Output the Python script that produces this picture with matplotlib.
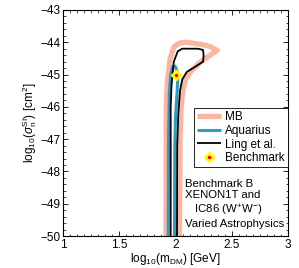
import numpy as np
import matplotlib
matplotlib.use("Agg")
import matplotlib.pyplot as plt
import matplotlib.ticker as ticker
from matplotlib.legend_handler import HandlerTuple

plt.rcParams['font.family'] = ['Liberation Sans', 'DejaVu Sans']
plt.rcParams['mathtext.fontset'] = 'custom'
plt.rcParams['mathtext.rm'] = 'Liberation Sans'
plt.rcParams['mathtext.it'] = 'Liberation Sans:italic'

# contours (log10 m_DM, log10 sigma)
mb_x = [1.915, 1.918, 1.928, 1.952, 1.985, 2.03, 2.09, 2.2, 2.3, 2.37, 2.3, 2.22, 2.14, 2.09, 2.065, 2.05, 2.04, 2.035]
mb_y = [-50, -46.0, -45.2, -44.5, -44.15, -44.03, -44.0, -44.05, -44.12, -44.25, -44.42, -44.62, -44.88, -45.15, -45.5, -46.0, -47.0, -50]

ling_x = [1.957, 1.957, 1.965, 1.985, 2.02, 2.06, 2.2, 2.245, 2.25, 2.245, 2.18, 2.1, 2.06, 2.04, 2.025, 2.015, 2.013]
ling_y = [-50, -46.0, -45.3, -44.6, -44.28, -44.2, -44.2, -44.24, -44.4, -44.6, -44.75, -44.92, -45.15, -45.5, -46.2, -47.2, -50]

aq_x = [1.935, 1.938, 1.945, 1.957, 1.975, 1.995, 2.01, 2.02, 2.015, 2.0, 1.994, 1.991]
aq_y = [-50, -47.0, -45.6, -45.0, -44.76, -44.74, -44.85, -45.1, -45.5, -46.3, -47.2, -50]

bench_x = [2.0]
bench_y = [-45.0]

fig = plt.figure(figsize=(2.99, 2.68), dpi=100)
ax = fig.add_axes([0.211, 0.119, 0.752, 0.844])

l_mb, = ax.plot(mb_x, mb_y, color='#fbb6a2', lw=3.8, solid_capstyle='butt')
l_aq, = ax.plot(aq_x, aq_y, color='#2e9cc2', lw=2.2, solid_capstyle='butt')
l_ling, = ax.plot(ling_x, ling_y, color='black', lw=1.3, solid_capstyle='butt')
b1, = ax.plot(bench_x, bench_y, 'D', color='yellow', ms=6, mec='none')
b2, = ax.plot(bench_x, bench_y, 'o', color='red', ms=2.5, mec='none')

ax.set_xlim(1, 3)
ax.set_ylim(-50, -43)
ax.xaxis.set_major_locator(ticker.MultipleLocator(0.5))
ax.xaxis.set_minor_locator(ticker.AutoMinorLocator(8))
ax.yaxis.set_major_locator(ticker.MultipleLocator(1))
ax.yaxis.set_minor_locator(ticker.AutoMinorLocator(5))
ax.xaxis.set_major_formatter(ticker.FuncFormatter(lambda v, p: '%g' % v))
ax.yaxis.set_major_formatter(ticker.FuncFormatter(lambda v, p: '\u2212%d' % abs(v)))
ax.tick_params(which='both', direction='in', top=True, right=True, labelsize=8.5, pad=2)
ax.tick_params(which='major', length=3.5, width=0.6)
ax.tick_params(which='minor', length=1.8, width=0.5)
for s in ax.spines.values():
    s.set_linewidth(0.8)

ax.set_xlabel(r'log$_{10}$(m$_{\rm DM}$) [GeV]', fontsize=8.5, labelpad=0)
ax.set_ylabel(r'log$_{10}$($\sigma_{\rm n}^{\rm SI}$) [cm$^2$]', fontsize=8.5, labelpad=1)

leg = ax.legend([l_mb, l_aq, l_ling, (b1, b2)], ['MB', 'Aquarius', 'Ling et al.', 'Benchmark'],
                handler_map={tuple: HandlerTuple(ndivide=1, pad=0)},
                loc='upper right', bbox_to_anchor=(1.0, 0.566), fontsize=8.5,
                frameon=True, fancybox=False, edgecolor='black', framealpha=1,
                borderpad=0.25, labelspacing=0.15, handlelength=2.0, handletextpad=0.4,
                borderaxespad=0)
leg.get_frame().set_linewidth(0.6)

ax.text(0.542, 0.142, 'Benchmark B\nXENON1T and\n   IC86 (W$^{+}$W$^{-}$)\nVaried Astrophysics',
        transform=ax.transAxes, fontsize=8.2, ha='left', va='center', linespacing=1.2)

fig.savefig('out.png', dpi=100)
